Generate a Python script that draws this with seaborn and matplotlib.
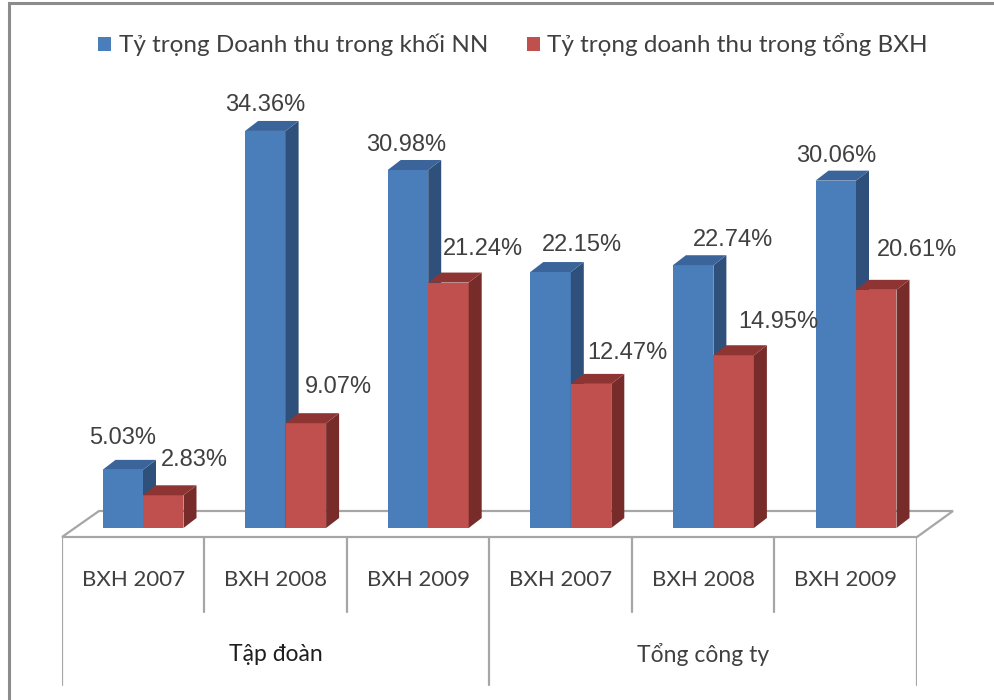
import numpy as np
import pandas as pd
import matplotlib.pyplot as plt
import seaborn as sns
from matplotlib.patches import Polygon, Patch

# DATA
groups = ["Tập đoàn", "Tập đoàn", "Tập đoàn", "Tổng công ty", "Tổng công ty", "Tổng công ty"]
years = ["BXH 2007", "BXH 2008", "BXH 2009", "BXH 2007", "BXH 2008", "BXH 2009"]
series_names = ["Tỷ trọng Doanh thu trong khối NN", "Tỷ trọng doanh thu trong tổng BXH"]
share_state = [5.03, 34.36, 30.98, 22.15, 22.74, 30.06]
share_total = [2.83, 9.07, 21.24, 12.47, 14.95, 20.61]

# label offsets (pixels) from the top centre of each bar front face
off_state = [(0, 32), (0, 26), (-2, 25), (31, 27), (40, 25), (0, 25)]
off_total = [(31, 35), (33, 36), (34, 34), (36, 31), (45, 33), (41, 40)]

slots = [f"{g}|{y}" for g, y in zip(groups, years)]
df = pd.DataFrame({
    "slot": slots * 2,
    "series": [series_names[0]] * 6 + [series_names[1]] * 6,
    "value": share_state + share_total,
})

BLUE, BLUE_SIDE, BLUE_TOP = "#4a7ebb", "#2f507b", "#3b659a"
RED, RED_SIDE, RED_TOP = "#c0504d", "#772c2a", "#8e3533"
TXT = "#404040"
GRID = "#a6a6a6"

sns.set_style("white")
plt.rcParams["font.family"] = ["Lato", "Open Sans", "DejaVu Sans"]

W, H = 995, 700
fig = plt.figure(figsize=(W / 100, H / 100), dpi=100)


def px_axes(left, top, right, bottom):
    a = fig.add_axes([left / W, 1 - bottom / H, (right - left) / W, (bottom - top) / H])
    a.set_facecolor("none")
    a.set_axis_off()
    return a


# BACKGROUND: frame + 3d floor (pixel coordinates)
bg = px_axes(0, 0, W, H)
bg.set_xlim(0, W)
bg.set_ylim(H, 0)
bg.plot([9, 9, W], [H, 3, 3], color="#8c8c8c", lw=2.2, solid_joinstyle="miter")
bg.add_patch(Polygon([(62, 537), (917, 537), (953, 511), (99, 511)], closed=True,
                     facecolor="white", edgecolor=GRID, lw=1.6))

# CATEGORY TABLE
tb = px_axes(62, 537, 917, 690)
tb.set_xlim(-0.5, 5.5)
tb.set_ylim(1, 0)
for i in range(len(slots) + 1):
    b = i - 0.5
    outer = i == 0 or i == len(slots) or groups[i] != groups[i - 1]
    tb.plot([b, b], [0, 0.97 if outer else 0.49], color=GRID, lw=1.6)
for i, y in enumerate(years):
    tb.text(i, 0.28, y, ha="center", va="center", fontsize=16, color=TXT)
for g in dict.fromkeys(groups):
    idx = [i for i, gg in enumerate(groups) if gg == g]
    tb.text(np.mean(idx), 0.77, g, ha="center", va="center", fontsize=16.5,
            color="#1e1e1e" if g == groups[0] else TXT)

# BARS
ax = px_axes(71.7, 60, 927.3, 528)
sns.barplot(data=df, x="slot", y="value", hue="series", order=slots, hue_order=series_names,
            palette=[BLUE, RED], saturation=1, width=0.568, gap=0, ax=ax, legend=False,
            linewidth=0, err_kws={"linewidth": 0})
ax.set_xlim(-0.5, 5.5)
ax.set_ylim(0, 40.5)
ax.set_axis_off()

ddx = 13 / 855.6 * 6
ddy = 10 / 468 * 40.5
styles = [(BLUE_SIDE, BLUE_TOP, off_state), (RED_SIDE, RED_TOP, off_total)]
for k, (cont, (side_c, top_c, offs)) in enumerate(zip(ax.containers, styles)):
    for bar, off in zip(cont, offs):
        x0, w, h = bar.get_x(), bar.get_width(), bar.get_height()
        z = 2 + k
        bar.set_zorder(z)
        ax.add_patch(Polygon([(x0 + w, 0), (x0 + w + ddx, ddy), (x0 + w + ddx, h + ddy), (x0 + w, h)],
                             closed=True, facecolor=side_c, edgecolor="none", zorder=z + 0.5))
        ax.add_patch(Polygon([(x0, h), (x0 + ddx, h + ddy), (x0 + w + ddx, h + ddy), (x0 + w, h)],
                             closed=True, facecolor=top_c, edgecolor="none", zorder=z + 0.5))
        ax.annotate(f"{h:.2f}%", xy=(x0 + w / 2, h), xytext=off, textcoords="offset pixels",
                    ha="center", va="center", fontsize=17, family="Liberation Sans",
                    color=TXT, zorder=10, annotation_clip=False)

# LEGEND
handles = [Patch(facecolor=BLUE, edgecolor="none"), Patch(facecolor=RED, edgecolor="none")]
fig.legend(handles, series_names, loc="center", bbox_to_anchor=(513 / W, 1 - 45 / H), ncol=2,
           frameon=False, fontsize=17.5, handlelength=0.55, handleheight=0.55,
           handletextpad=0.3, columnspacing=1.6, labelcolor=TXT)

fig.savefig("out.png", dpi=100)
